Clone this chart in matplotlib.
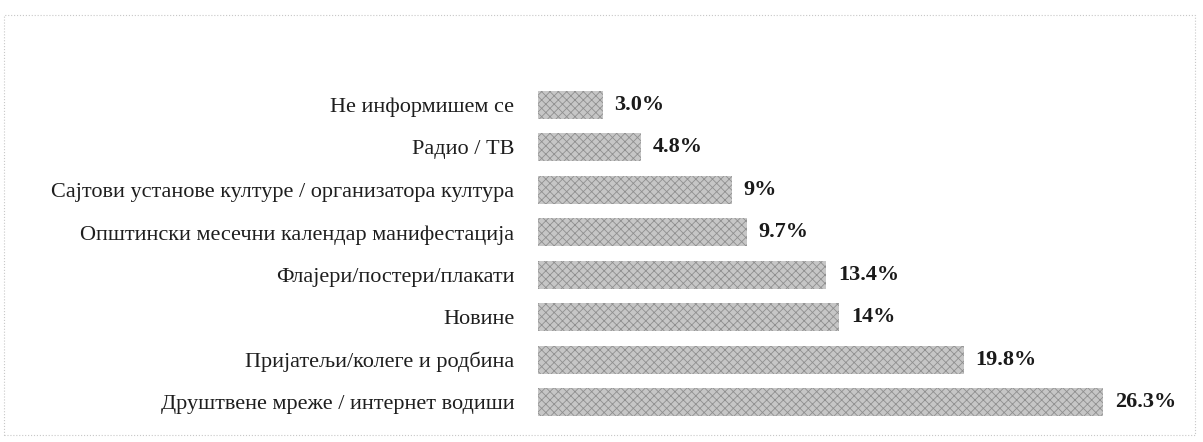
import matplotlib
matplotlib.use("Agg")
import matplotlib.pyplot as plt
from matplotlib.patches import Rectangle

# data, top to bottom as in the picture
categories = [
    "Не информишем се",
    "Радио / ТВ",
    "Сајтови установе културе / организатора култура",
    "Општински месечни календар манифестација",
    "Флајери/постери/плакати",
    "Новине",
    "Пријатељи/колеге и родбина",
    "Друштвене мреже / интернет водиши",
]
values = [3.0, 4.8, 9.0, 9.7, 13.4, 14.0, 19.8, 26.3]
value_labels = ["3.0%", "4.8%", "9%", "9.7%", "13.4%", "14%", "19.8%", "26.3%"]

plt.rcParams["font.family"] = ["Liberation Serif", "DejaVu Serif"]
plt.rcParams["hatch.linewidth"] = 0.6
plt.rcParams["hatch.color"] = "#8a8a8a"

fig = plt.figure(figsize=(12.03, 4.42), dpi=100)
ax = fig.add_axes([538 / 1203, 0.023, (1195 - 538) / 1203, 0.807])

pos = list(range(len(categories)))
ax.barh(pos, values, height=0.66, color="#c6c6c6", hatch="xxxx",
        edgecolor="#8f8f8f", linewidth=0)

# value labels right of the bars
for p, v, lab in zip(pos, values, value_labels):
    ax.text(v + 0.55, p, lab, va="center", ha="left", fontsize=16,
            fontweight="bold", color="#1a1a1a")

ax.set_xlim(0, (1195 - 538) / 21.5)
ax.set_ylim(len(categories) - 0.3, -0.7)
ax.set_yticks(pos)
ax.set_yticklabels(categories, fontsize=16, color="#1e1e1e")
ax.tick_params(axis="y", length=0, pad=17)
ax.set_xticks([])
for s in ax.spines.values():
    s.set_visible(False)

# faint scanned frame round the chart
fig.patches.append(Rectangle((0.003, 0.015), 0.99, 0.95, transform=fig.transFigure,
                             fill=False, edgecolor="#c8c8c8", linewidth=0.8,
                             linestyle=":"))

fig.savefig("out.png", dpi=100)
